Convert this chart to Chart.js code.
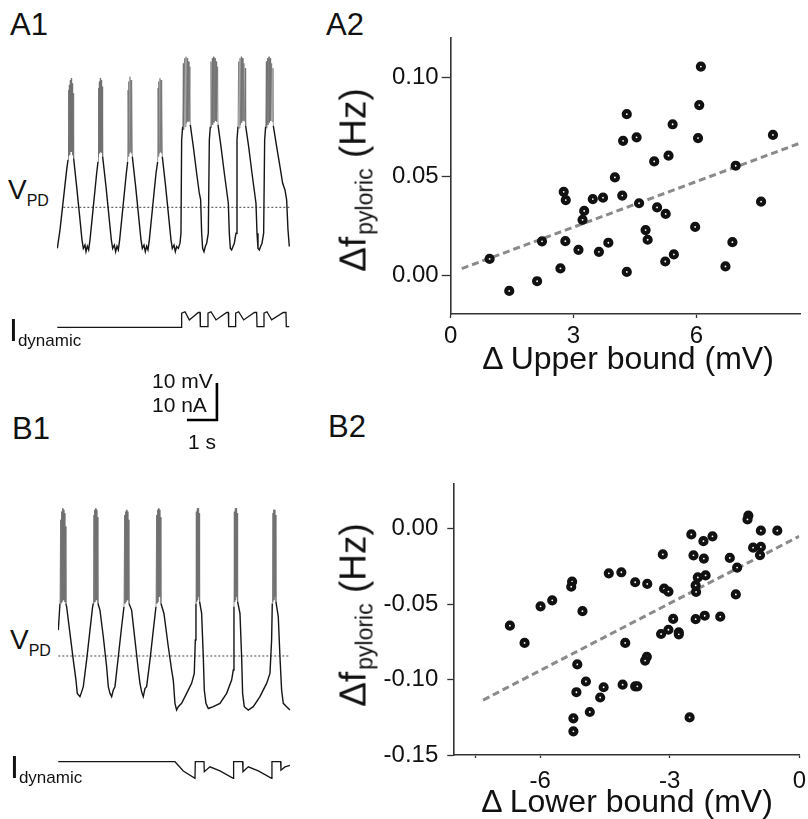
<!DOCTYPE html>
<html>
<head>
<meta charset="utf-8">
<script src="https://cdn.jsdelivr.net/npm/chart.js@4.4.1/dist/chart.umd.min.js"></script>
<style>
  html, body { margin:0; padding:0; background:#fff; overflow:hidden; }
  #wrap { position:relative; width:808px; height:819px; overflow:hidden; background:#fff;
          font-family:"Liberation Sans", Arial, Helvetica, sans-serif; color:#111; }
  canvas { position:absolute; }
  .lbl { position:absolute; line-height:1; white-space:nowrap; }
  .sub { position:relative; }
  .yt { position:absolute; line-height:1; white-space:nowrap; font-size:37px;
        transform:translate(-50%,-50%) rotate(-90deg); }
  .xt { position:absolute; line-height:1; white-space:nowrap; font-size:32px; transform:translateX(-50%); }
</style>
</head>
<body>
<div id="wrap">
  <canvas id="a1" width="236" height="420" style="left:57px;top:40px"></canvas>
  <canvas id="b1" width="236" height="300" style="left:58px;top:490px"></canvas>
  <canvas id="a2" width="438" height="340" style="left:370px;top:20px"></canvas>
  <canvas id="b2" width="445" height="340" style="left:370px;top:460px"></canvas>

  <div class="lbl" style="left:10px;top:9px;font-size:31px">A1</div>
  <div class="lbl" style="left:326px;top:9px;font-size:31px">A2</div>
  <div class="lbl" style="left:12px;top:413px;font-size:31px">B1</div>
  <div class="lbl" style="left:328px;top:411px;font-size:31px">B2</div>

  <div class="lbl" style="left:8px;top:176px;font-size:28px">V<span class="sub" style="font-size:16px;top:7px">PD</span></div>
  <div class="lbl" style="left:10px;top:626px;font-size:28px">V<span class="sub" style="font-size:16px;top:7px">PD</span></div>
  <div class="lbl" style="left:9px;top:314px;font-size:32px">I<span class="sub" style="font-size:17px;top:5px">dynamic</span></div>
  <div class="lbl" style="left:10px;top:751px;font-size:32px">I<span class="sub" style="font-size:17px;top:5px">dynamic</span></div>

  <div class="lbl" style="left:152px;top:370px;font-size:21px">10 mV</div>
  <div class="lbl" style="left:152px;top:394px;font-size:21px">10 nA</div>
  <div class="lbl" style="left:188px;top:431px;font-size:21px">1 s</div>

  <div class="yt" style="left:353px;top:180px">Δf<span class="sub" style="font-size:23px;top:7px;margin-left:2px">pyloric</span> (Hz)</div>
  <div class="yt" style="left:353px;top:615px">Δf<span class="sub" style="font-size:23px;top:7px;margin-left:2px">pyloric</span> (Hz)</div>
  <div class="xt" style="left:628px;top:342px">Δ Upper bound (mV)</div>
  <div class="xt" style="left:627px;top:785px">Δ Lower bound (mV)</div>
</div>

<script>
// ---------------- DATA ----------------
// A1 voltage trace (time s, membrane potential mV)
const a1T = [0,0.089,0.2,0.311,0.356,
 0.367,0.378,0.4,0.411,0.433,0.444,0.467,0.478,0.5,0.511,0.533,0.544,
 0.644,0.756,0.822,0.867,0.922,0.956,1.0,1.044,1.089,
 1.2,1.311,1.356,
 1.367,1.378,1.4,1.411,1.433,1.444,1.467,1.478,1.5,1.511,
 1.622,1.733,1.8,1.844,1.9,1.944,1.989,2.033,2.078,
 2.189,2.3,2.344,
 2.356,2.367,2.389,2.4,2.422,2.433,2.456,2.467,2.489,2.5,
 2.611,2.722,2.789,2.833,2.889,2.933,2.978,3.022,3.067,
 3.178,3.289,3.344,
 3.356,3.367,3.389,3.4,3.422,3.433,3.456,3.467,3.489,3.5,
 3.611,3.722,3.789,3.833,3.889,3.933,3.978,4.033,4.089,
 4.122,4.144,4.178,
 4.2,4.211,4.244,4.256,4.289,4.3,4.333,4.344,4.378,4.389,4.422,4.433,
 4.533,4.644,4.733,4.778,4.811,4.844,4.889,4.933,4.978,
 5.033,5.067,5.1,
 5.122,5.133,5.167,5.178,5.211,5.222,5.256,5.267,5.3,5.311,5.344,5.356,
 5.456,5.567,5.656,5.7,5.733,5.767,5.811,5.856,5.9,
 5.956,5.989,6.022,
 6.044,6.056,6.089,6.1,6.133,6.144,6.178,6.189,6.222,6.233,6.267,6.278,
 6.378,6.489,6.578,6.622,6.656,6.689,6.733,6.778,6.822,
 6.878,6.911,6.944,
 6.967,6.978,7.011,7.022,7.056,7.067,7.1,7.111,7.144,7.156,7.189,7.2,
 7.311,7.422,7.511,7.589,7.644,7.689,7.733];
const a1V = [-61.1,-56.1,-48.0,-39.9,-37.2,
 -18.3,-36.3,-16.9,-35.9,-15.6,-35.0,-15.1,-35.0,-16.5,-35.9,-19.2,-36.8,
 -44.4,-53.4,-58.8,-61.1,-60.2,-62.0,-60.5,-61.5,-58.8,
 -49.8,-40.8,-37.7,
 -17.8,-36.3,-16.0,-35.4,-15.1,-35.0,-15.6,-35.2,-17.4,-36.3,
 -44.4,-53.4,-58.8,-61.1,-60.2,-62.0,-60.5,-61.5,-58.8,
 -49.8,-40.8,-37.7,
 -18.3,-36.3,-16.0,-35.4,-14.7,-35.0,-15.6,-35.4,-17.8,-36.3,
 -44.4,-53.4,-58.8,-61.1,-60.2,-62.0,-60.5,-61.5,-58.8,
 -49.8,-40.8,-37.7,
 -17.8,-36.3,-16.0,-35.4,-15.1,-35.0,-15.6,-35.4,-18.3,-36.3,
 -44.4,-53.4,-58.8,-61.1,-60.2,-62.0,-60.6,-61.1,-59.7,
 -57.0,-31.8,-28.2,
 -11.1,-29.1,-9.7,-28.2,-9.3,-27.3,-9.7,-26.8,-10.6,-26.8,-12.0,-27.7,
 -33.6,-40.8,-46.2,-48.0,-57.0,-61.1,-62.0,-60.6,-59.7,
 -57.0,-31.8,-28.2,
 -10.6,-28.6,-9.7,-27.7,-9.3,-27.1,-9.7,-26.6,-10.6,-26.8,-12.0,-27.7,
 -33.6,-40.8,-46.2,-48.9,-57.0,-61.1,-61.5,-60.6,-59.7,
 -57.0,-31.8,-28.2,
 -10.6,-28.6,-9.7,-27.7,-9.3,-27.1,-9.7,-26.6,-11.1,-26.8,-12.4,-28.0,
 -33.6,-40.8,-46.2,-48.9,-57.0,-61.1,-61.5,-60.6,-59.7,
 -57.0,-31.8,-28.2,
 -10.6,-28.6,-9.7,-27.7,-9.3,-27.1,-9.7,-26.6,-11.1,-26.8,-12.4,-28.0,
 -33.6,-39.0,-43.5,-45.3,-48.0,-56.1,-60.6];
// A1 dynamic-clamp current (time s, nA)
const a1IT = [0,4.133,4.144,4.256,4.4,4.7,4.756,4.767,5.011,5.022,5.122,5.289,5.644,5.7,5.711,5.933,5.944,6.044,6.211,6.567,6.644,6.656,6.878,6.889,6.989,7.144,7.533,7.622,7.633,7.733];
const a1I  = [0,0,3.8,4.2,2.0,4.0,4.0,0.2,0.2,3.8,4.2,2.0,4.0,4.0,0.2,0.2,3.8,4.2,2.0,4.0,4.0,0.2,0.2,3.8,4.2,2.0,4.0,4.0,0.2,0.2];
const a1RefT = [0.2, 7.733];
const a1RefV = [-50, -50];

// B1 voltage trace
const b1T = [0,0.056,
 0.078,0.089,0.111,0.122,0.144,0.156,0.178,0.189,0.211,0.222,0.244,0.256,
 0.278,0.389,0.5,0.589,0.633,0.722,0.778,0.833,
 0.944,1.056,1.144,1.167,
 1.178,1.189,1.211,1.222,1.244,1.256,1.278,1.289,1.311,1.322,
 1.389,1.5,1.611,1.667,1.722,1.778,1.833,1.889,
 2.0,2.111,2.189,
 2.211,2.222,2.244,2.256,2.278,2.289,2.311,2.322,2.344,2.356,
 2.444,2.556,2.667,2.722,2.778,2.833,2.889,2.944,
 3.056,3.167,3.256,
 3.278,3.289,3.311,3.322,3.344,3.356,3.378,3.389,3.411,3.422,
 3.522,3.667,3.778,3.833,3.889,3.944,4.0,4.111,4.278,4.444,4.533,
 4.567,4.589,
 4.6,4.611,4.633,4.644,4.667,4.678,4.7,4.711,
 4.778,4.833,4.867,4.922,5.0,5.167,5.389,5.611,5.778,5.833,
 5.856,
 5.867,5.878,5.9,5.911,5.933,5.944,5.967,5.978,
 6.056,6.111,6.144,6.2,6.333,6.5,6.722,6.944,7.056,7.111,7.133,
 7.144,7.156,7.178,7.189,7.211,7.222,7.244,7.256,
 7.333,7.389,7.444,7.5,7.611,7.722];
const b1V = [-43.0,-35.8,
 -13.2,-35.8,-11.0,-35.4,-10.1,-34.9,-10.5,-34.9,-11.4,-35.4,-15.0,-36.0,
 -36.7,-43.9,-51.1,-56.5,-60.1,-61.0,-59.7,-58.3,
 -51.1,-43.0,-36.7,-35.8,
 -11.9,-35.8,-10.5,-35.4,-10.1,-34.9,-10.5,-34.9,-12.5,-35.8,
 -37.6,-44.8,-52.9,-58.3,-60.1,-61.0,-59.2,-58.3,
 -50.2,-42.1,-36.7,
 -11.9,-35.8,-11.0,-35.4,-10.5,-34.9,-11.0,-34.9,-13.2,-35.8,
 -37.6,-45.7,-53.8,-57.4,-59.7,-61.0,-58.8,-58.3,
 -51.1,-43.0,-36.7,
 -11.9,-35.8,-10.5,-35.4,-10.1,-34.0,-10.5,-34.0,-12.5,-35.8,
 -38.5,-47.5,-53.8,-56.5,-62.8,-64.6,-63.7,-62.8,-60.1,-57.4,-54.7,
 -45.7,-35.8,
 -11.0,-35.4,-10.1,-34.9,-10.1,-34.0,-11.4,-35.4,
 -38.5,-50.2,-59.2,-62.8,-64.2,-63.7,-62.8,-60.1,-56.5,-53.8,
 -36.7,
 -11.0,-35.4,-10.1,-34.9,-10.1,-34.0,-11.4,-35.4,
 -38.5,-50.2,-60.1,-63.7,-64.6,-63.7,-61.0,-57.4,-54.7,-45.7,-35.8,
 -11.4,-35.4,-10.5,-34.9,-10.5,-34.0,-11.9,-35.4,
 -39.4,-50.2,-59.2,-62.8,-63.7,-64.6];
const b1IT = [0,3.889,4.167,4.556,4.567,4.856,4.867,5.056,5.389,5.833,5.844,6.144,6.156,6.333,6.667,7.111,7.122,7.411,7.422,7.556,7.722];
const b1I  = [0,0,-2.5,-4.5,0,0,-2.7,-1.4,-2.5,-4.5,0,0,-2.7,-1.4,-2.5,-4.5,0,0,-2.3,-1.4,-1.0];
const b1RefT = [0, 7.667];
const b1RefV = [-50, -50];

// Scale bar: 1 s horizontal, 10 mV / 10 nA vertical
const scaleBarT = [4.32, 5.32, 5.32];
const scaleBarV = [-107.5, -107.5, -97.5];

// A2 scatter: delta upper bound (mV) vs delta f pyloric (Hz)
const a2X = [6.11,6.07,4.30,5.42,4.54,4.21,6.04,7.87,4.97,5.32,6.96,4.01,2.76,2.81,3.47,3.72,4.19,7.58,4.60,3.26,
             3.22,5.04,5.25,4.76,4.81,5.97,2.23,2.80,3.12,3.62,3.85,0.95,2.68,2.11,1.43,4.30,5.24,5.45,6.88,6.71];
const a2Y = [0.1056,0.0861,0.0815,0.0764,0.0698,0.0680,0.0694,0.0710,0.0576,0.0605,0.0554,0.0495,0.0422,0.0380,0.0385,0.0392,0.0403,0.0372,0.0364,0.0325,
             0.0280,0.0343,0.0310,0.0228,0.0179,0.0244,0.0171,0.0172,0.0128,0.0118,0.0164,0.0082,0.0034,-0.0031,-0.0080,0.0016,0.0069,0.0105,0.0167,0.0044];
const a2FitX = [0.27, 8.55];
const a2FitY = [0.0033, 0.0670];
const a2XTicks = [0, 3, 6];
const a2YTicks = [0, 0.05, 0.10];

// B2 scatter: delta lower bound (mV) vs delta f pyloric (Hz)
const b2X = [-1.18,-1.20,-0.89,-0.51,-2.50,-2.22,-2.01,-1.07,-0.89,-0.91,-3.16,-2.45,-2.21,-1.61,-1.44,-2.35,-2.17,-2.40,-2.39,-3.13,
             -3.03,-4.41,-4.12,-3.80,-3.52,-5.26,-5.28,-5.99,-5.72,-5.02,-1.47,-2.92,-2.40,-2.19,-1.83,-6.70,-6.36,-3.20,-3.03,-2.79,
             -2.79,-4.03,-3.53,-3.57,-5.14,-4.94,-5.16,-4.53,-4.61,-4.09,-3.80,-3.75,-4.85,-5.23,-5.23,-2.54];
const b2Y = [0.0087,0.0061,-0.0013,-0.0013,-0.0038,-0.0083,-0.0051,-0.0126,-0.0121,-0.0175,-0.0171,-0.0177,-0.0198,-0.0194,-0.0258,-0.0323,-0.0310,-0.0376,-0.0419,-0.0398,
             -0.0417,-0.0296,-0.0289,-0.0355,-0.0366,-0.0351,-0.0385,-0.0515,-0.0475,-0.0547,-0.0436,-0.0598,-0.0600,-0.0577,-0.0583,-0.0643,-0.0757,-0.0698,-0.0670,-0.0687,
             -0.0700,-0.0757,-0.0849,-0.0874,-0.0900,-0.1013,-0.1084,-0.1051,-0.1119,-0.1034,-0.1045,-0.1045,-0.1215,-0.1257,-0.1343,-0.1251];
const b2FitX = [-7.32, 0];
const b2FitY = [-0.1136, -0.0050];
const b2XTicks = [-7.5, -6, -3, 0];
const b2YTicks = [-0.15, -0.10, -0.05, 0];

// ---------------- DRAWING ----------------
const FONT = '"Liberation Sans", Arial, Helvetica, sans-serif';
const pts = (xs, ys) => xs.slice(0, Math.min(xs.length, ys.length)).map((x, i) => ({ x: x, y: ys[i] }));

function traceChart(id, opts) {
  const isSpike = ctx => (ctx.p0.parsed.y > opts.spikeLevel || ctx.p1.parsed.y > opts.spikeLevel);
  const datasets = [
    { data: pts(opts.vT, opts.v), yAxisID: 'yV', borderColor: '#151515', borderWidth: 1.4,
      segment: { borderColor: ctx => isSpike(ctx) ? '#6e6e6e' : undefined,
                 borderWidth: ctx => isSpike(ctx) ? 0.7 : undefined } },
    { data: pts(opts.refT, opts.refV), yAxisID: 'yV', borderColor: '#444', borderWidth: 1, borderDash: [2, 2] },
    { data: pts(opts.iT, opts.i), yAxisID: 'yI', borderColor: '#151515', borderWidth: 1.3 }
  ];
  if (opts.barT) datasets.push({ data: pts(opts.barT, opts.barV), yAxisID: 'yV', borderColor: '#000', borderWidth: 2.6, borderCapStyle: 'butt', borderJoinStyle: 'miter' });
  datasets.forEach(d => { d.pointRadius = 0; d.tension = 0; d.fill = false; });
  new Chart(document.getElementById(id), {
    type: 'line',
    data: { datasets: datasets },
    options: {
      responsive: false, animation: false, devicePixelRatio: 1, events: [],
      layout: { padding: 0 },
      plugins: { legend: { display: false }, tooltip: { enabled: false } },
      scales: {
        x: { type: 'linear', display: false, min: opts.xMin, max: opts.xMax },
        yV: { type: 'linear', display: false, min: opts.vMin, max: opts.vMax },
        yI: { type: 'linear', display: false, min: opts.iMin, max: opts.iMax }
      }
    }
  });
}

traceChart('a1', { vT: a1T, v: a1V, refT: a1RefT, refV: a1RefV, iT: a1IT, i: a1I,
  barT: scaleBarT, barV: scaleBarV, spikeLevel: -24,
  xMin: -0.011, xMax: 7.856, vMin: -118.3, vMax: -4.78, iMin: -35.86, iMax: 77.65 });
traceChart('b1', { vT: b1T, v: b1V, refT: b1RefT, refV: b1RefV, iT: b1IT, i: b1I, spikeLevel: -30,
  xMin: -0.01, xMax: 7.857, vMin: -86.22, vMax: -5.14, iMin: -7.65, iMax: 73.43 });

function scatterChart(id, o) {
  const axisColor = '#333';
  new Chart(document.getElementById(id), {
    type: 'scatter',
    data: { datasets: [
      { type: 'line', data: pts(o.fitX, o.fitY), borderColor: '#8a8a8a', borderWidth: 3, borderDash: [7, 4],
        pointRadius: 0, tension: 0, order: 2 },
      { data: pts(o.xs, o.ys), pointRadius: 3, pointHoverRadius: 3, borderWidth: 4.2,
        pointBackgroundColor: '#fff', pointBorderColor: '#111', backgroundColor: '#fff', borderColor: '#111', order: 1 }
    ] },
    options: {
      responsive: false, animation: false, devicePixelRatio: 1, events: [],
      layout: { padding: { left: 0, top: o.padTop, right: o.padRight, bottom: 0 } },
      plugins: { legend: { display: false }, tooltip: { enabled: false } },
      scales: {
        x: { type: 'linear', min: o.xMin, max: o.xMax,
          afterBuildTicks: s => { s.ticks = o.xTicks.map(v => ({ value: v })); },
          afterFit: s => { s.height = o.xH; },
          ticks: { autoSkip: false, maxRotation: 0, padding: o.xPad, color: '#111',
                   font: { family: FONT, size: 24 },
                   callback: v => (o.xTicks.indexOf(v) >= 0 && v !== -7.5) ? String(v) : '' },
          grid: { drawOnChartArea: false, drawTicks: true, tickLength: o.xTickLen, tickColor: axisColor, tickWidth: 1.3 },
          border: { display: true, color: axisColor, width: 1.6 } },
        y: { type: 'linear', min: o.yMin, max: o.yMax,
          afterBuildTicks: s => { s.ticks = o.yTicks.map(v => ({ value: v })); },
          afterFit: s => { s.width = o.yW; },
          ticks: { autoSkip: false, padding: o.yPad, color: '#111',
                   font: { family: FONT, size: 24 },
                   callback: v => Number(v).toFixed(2) },
          grid: { drawOnChartArea: false, drawTicks: true, tickLength: o.yTickLen, tickColor: axisColor, tickWidth: 1.3 },
          border: { display: true, color: axisColor, width: 1.6 } }
      }
    }
  });
}

scatterChart('a2', { xs: a2X, ys: a2Y, fitX: a2FitX, fitY: a2FitY, xTicks: a2XTicks, yTicks: a2YTicks,
  xMin: 0, xMax: 8.55, yMin: -0.0197, yMax: 0.1204,
  yW: 80.7, xH: 46, padTop: 9.3, padRight: 3, yTickLen: 9, yPad: 3, xTickLen: 4, xPad: 4 });
scatterChart('b2', { xs: b2X, ys: b2Y, fitX: b2FitX, fitY: b2FitY, xTicks: b2XTicks, yTicks: b2YTicks,
  xMin: -8.01, xMax: 0, yMin: -0.15, yMax: 0.030,
  yW: 83.3, xH: 45, padTop: 13.3, padRight: 12.7, yTickLen: 6, yPad: 9, xTickLen: 3, xPad: 9 });
</script>
</body>
</html>
